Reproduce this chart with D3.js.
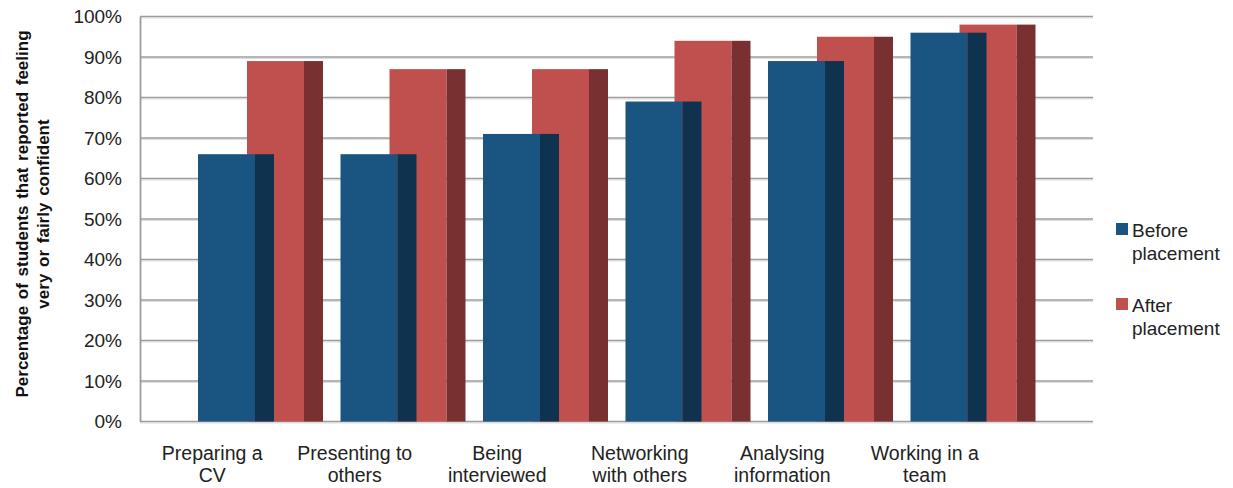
<!DOCTYPE html>
<html>
<head>
<meta charset="utf-8">
<script src="https://cdn.jsdelivr.net/npm/d3@7/dist/d3.min.js"></script>
<style>
  body { margin: 0; background: #fff; }
  svg { display: block; font-family: "Liberation Sans", Arial, sans-serif; }
</style>
</head>
<body>
<svg width="1233" height="488"></svg>
<script>
// data
var categories = [["Preparing a", "CV"], ["Presenting to", "others"], ["Being", "interviewed"],
  ["Networking", "with others"], ["Analysing", "information"], ["Working in a", "team"]];
var before = [66, 66, 71, 79, 89, 96];
var after = [89, 87, 87, 94, 95, 98];
var yTicks = [0, 10, 20, 30, 40, 50, 60, 70, 80, 90, 100];
var seriesNames = ["Before placement", "After placement"];

var svg = d3.select("svg");

var plotLeft = 140, plotRight = 1093, plotTop = 16.5, plotBottom = 421.5;

var y = d3.scaleLinear().domain([0, 100]).range([plotBottom, plotTop]);
var x = d3.scaleBand()
  .domain(d3.range(categories.length))
  .range([141, 996]);

// gridlines (back wall)
var grid = svg.append("g");
grid.selectAll("line.shadow")
  .data(yTicks)
  .enter().append("line")
  .attr("x1", plotLeft).attr("x2", plotRight)
  .attr("y1", function(d) { return y(d) + 1.5; })
  .attr("y2", function(d) { return y(d) + 1.5; })
  .attr("stroke", "#dedede").attr("stroke-width", 1);
grid.selectAll("line.grid")
  .data(yTicks)
  .enter().append("line")
  .attr("x1", plotLeft).attr("x2", plotRight)
  .attr("y1", function(d) { return y(d); })
  .attr("y2", function(d) { return y(d); })
  .attr("stroke", "#9c9c9c").attr("stroke-width", 1.6);

// y axis
var yAxis = svg.append("g")
  .attr("transform", "translate(" + plotLeft + ",0)")
  .call(d3.axisLeft(y).tickValues(yTicks).tickSize(0).tickPadding(18)
    .tickFormat(function(d) { return d + "%"; }));
yAxis.select(".domain").attr("stroke", "#9c9c9c").attr("stroke-width", 1.8);
yAxis.selectAll("text")
  .attr("fill", "#222")
  .style("font-size", "19px");

// bars: front face + darker side
var frontW = 57, sideW = 19, blueOff = 57, redOff = 106;

function drawSeries(vals, off, front, side) {
  var g = svg.append("g");
  g.selectAll("rect.front")
    .data(vals)
    .enter().append("rect")
    .attr("x", function(d, i) { return x(i) + off; })
    .attr("y", function(d) { return y(d); })
    .attr("width", frontW)
    .attr("height", function(d) { return y(0) - y(d); })
    .attr("fill", front);
  g.selectAll("rect.side")
    .data(vals)
    .enter().append("rect")
    .attr("x", function(d, i) { return x(i) + off + frontW; })
    .attr("y", function(d) { return y(d); })
    .attr("width", sideW)
    .attr("height", function(d) { return y(0) - y(d); })
    .attr("fill", side);
}
drawSeries(after, redOff, "#c0504d", "#783030");
drawSeries(before, blueOff, "#1a5480", "#0f334f");

// category labels
var cat = svg.append("g");
categories.forEach(function(c, i) {
  var cx = x(i) + x.bandwidth() / 2;
  var t = cat.append("text")
    .attr("y", 460)
    .attr("text-anchor", "middle")
    .attr("fill", "#222")
    .style("font-size", "19.5px");
  t.append("tspan").attr("x", cx).text(c[0]);
  t.append("tspan").attr("x", cx).attr("dy", 22).text(c[1]);
});

// y title
var yt = svg.append("text")
  .attr("transform", "translate(28,214) rotate(-90)")
  .attr("text-anchor", "middle")
  .attr("fill", "#111")
  .style("font-size", "17px")
  .style("font-weight", "bold")
  .style("word-spacing", "2px");
yt.append("tspan").attr("x", 0).attr("y", 0).text("Percentage of students that reported feeling");
yt.append("tspan").attr("x", 0).attr("y", 21).text("very or fairly confident");

// legend
var legColors = ["#1a5480", "#c0504d"];
var leg = svg.append("g");
seriesNames.forEach(function(n, i) {
  var gy = 223 + i * 75;
  leg.append("rect")
    .attr("x", 1116).attr("y", gy)
    .attr("width", 12).attr("height", 12)
    .attr("fill", legColors[i]);
  var words = n.split(" ");
  var t = leg.append("text")
    .attr("fill", "#222")
    .style("font-size", "19px");
  t.append("tspan").attr("x", 1132).attr("y", gy + 14).text(words[0]);
  t.append("tspan").attr("x", 1132).attr("y", gy + 37).text(words[1]);
});
</script>
</body>
</html>
